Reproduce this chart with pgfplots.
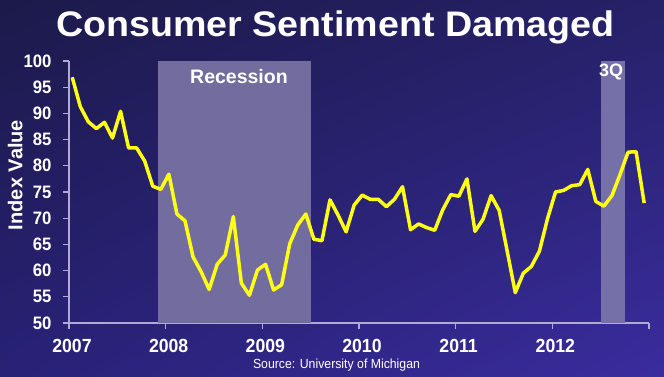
\documentclass[border=0pt]{standalone}
\usepackage{fontspec}
\setmainfont{Liberation Sans}
\newfontfamily\titlefont[FakeStretch=1.06]{Liberation Sans}
\newfontfamily\narrowfont[FakeStretch=0.93]{Liberation Sans}
\usepackage{pgfplots}
\pgfplotsset{compat=1.18}
\usetikzlibrary{shadings}
\definecolor{bgUL}{RGB}{28,26,74}
\definecolor{bgUR}{RGB}{38,33,104}
\definecolor{bgLL}{RGB}{40,33,118}
\definecolor{bgLR}{RGB}{58,44,158}
\definecolor{band}{RGB}{114,109,158}
\definecolor{bandq}{RGB}{118,112,168}
\definecolor{axiscol}{RGB}{175,170,215}
\definecolor{lineyel}{RGB}{255,255,20}
\begin{document}
\begin{tikzpicture}[x=1pt,y=1pt]
\shade[upper left=bgUL, upper right=bgUR, lower left=bgLL, lower right=bgLR] (0,0) rectangle (664,377);
\begin{axis}[
  at={(69pt,54pt)}, anchor=south west,
  scale only axis, width=580pt, height=262pt,
  xmin=-0.4, xmax=71.6, ymin=50, ymax=100,
  axis x line*=bottom, axis y line*=left,
  axis line style={draw=axiscol, line width=1.3pt},
  xtick={-0.4,11.6,23.6,35.6,47.6,59.6,71.6},
  xticklabels={2007,2008,2009,2010,2011,2012,{}},
  ytick={50,55,...,100},
  tick style={draw=axiscol, line width=1.1pt},
  tick align=outside, major tick length=6pt,
  /pgf/number format/assume math mode=true,
  xticklabel style={font=\narrowfont\bfseries\fontsize{19}{20}\selectfont, text=white, yshift=-7pt, xshift=3pt},
  yticklabel style={font=\narrowfont\bfseries\fontsize{18}{19}\selectfont, text=white, xshift=-8pt},
  clip=false,
]
\addplot[draw=none, fill=band] coordinates {(10.6,50) (10.6,100) (29.6,100) (29.6,50)} -- cycle;
\addplot[draw=none, fill=bandq] coordinates {(65.6,50) (65.6,100) (68.6,100) (68.6,50)} -- cycle;
\node[anchor=base, text=white, font=\bfseries\fontsize{19.5}{20}\selectfont] at (axis cs:20.7,95.7) {Recession};
\node[anchor=base, text=white, font=\bfseries\fontsize{18}{19}\selectfont] at (axis cs:66.9,97.1) {3Q};
\addplot[lineyel, line width=3.5pt, line join=round, mark=none] coordinates {
(0,96.9) (1,91.3) (2,88.4) (3,87.1) (4,88.3) (5,85.3) (6,90.4) (7,83.4) (8,83.4) (9,80.9) (10,76.1) (11,75.5)
(12,78.4) (13,70.8) (14,69.5) (15,62.6) (16,59.8) (17,56.4) (18,61.2) (19,63.0) (20,70.3) (21,57.6) (22,55.3) (23,60.1)
(24,61.2) (25,56.3) (26,57.3) (27,65.1) (28,68.7) (29,70.8) (30,66.0) (31,65.7) (32,73.5) (33,70.6) (34,67.4) (35,72.5)
(36,74.4) (37,73.6) (38,73.6) (39,72.2) (40,73.6) (41,76.0) (42,67.8) (43,68.9) (44,68.2) (45,67.7) (46,71.6) (47,74.5)
(48,74.2) (49,77.5) (50,67.5) (51,69.8) (52,74.3) (53,71.5) (54,63.7) (55,55.8) (56,59.5) (57,60.8) (58,63.7) (59,69.9)
(60,75.0) (61,75.3) (62,76.2) (63,76.4) (64,79.3) (65,73.2) (66,72.3) (67,74.3) (68,78.3) (69,82.6) (70,82.7) (71,72.9)
};
\end{axis}
\node[anchor=base, text=white, font=\titlefont\bfseries\fontsize{35.5}{40}\selectfont] at (335.5,340.3) {Consumer Sentiment Damaged};
\node[anchor=base, text=white, font=\narrowfont\fontsize{13.2}{15}\selectfont] at (336.5,8.7) {Source: University of Michigan};
\node[rotate=90, text=white, font=\bfseries\fontsize{20}{22}\selectfont] at (15.3,202) {Index Value};
\pgfresetboundingbox
\useasboundingbox (0,0) rectangle (664,377);
\end{tikzpicture}
\end{document}
